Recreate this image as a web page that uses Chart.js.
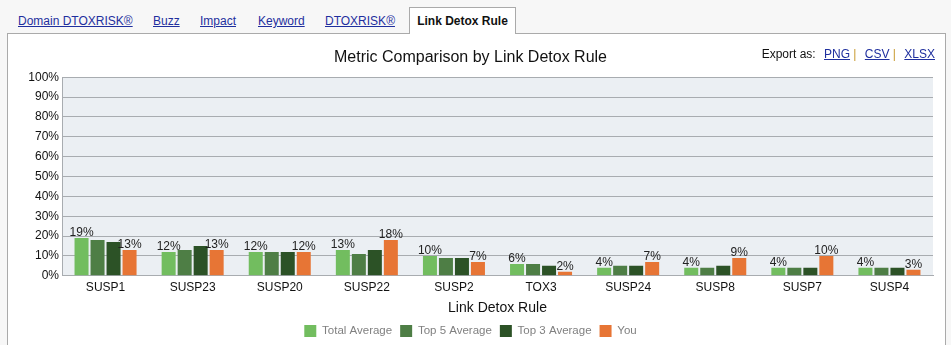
<!DOCTYPE html>
<html lang="en">
<head>
    <meta charset="utf-8" />
    <title>Link Detox Rule</title>
    <style>
        body {
            margin: 0;
            background: #f7f7f7;
            font-family: "Liberation Sans", Arial, sans-serif;
            width: 951px;
            height: 345px;
            overflow: hidden;
            position: relative;
        }
        .tab {
            position: absolute;
            top: 14px;
            font-size: 12px;
            color: #1f2f9e;
            text-decoration: underline;
        }
        #tab-active {
            position: absolute;
            left: 409px;
            top: 7px;
            width: 107px;
            height: 27px;
            background: #fff;
            border: 1px solid #aaa;
            border-bottom: none;
            box-sizing: border-box;
            font-size: 12px;
            font-weight: bold;
            color: #111;
            text-align: center;
            line-height: 26px;
            z-index: 2;
        }
        #panel {
            position: absolute;
            left: 7px;
            top: 33px;
            width: 939px;
            height: 320px;
            background: #fff;
            border: 1px solid #aaa;
            box-sizing: border-box;
        }
        #export {
            position: absolute;
            right: 16px;
            top: 47px;
            font-size: 12px;
            color: #111;
            z-index: 2;
        }
        #export a {
            color: #1f2f9e;
            text-decoration: underline;
            margin-left: 5px;
        }
        #export .sep { color: #c89a30; }
        #chartBox {
            position: absolute;
            left: 8px;
            top: 34px;
            width: 936px;
            height: 313px;
        }
    </style>
</head>
<body>
    <span class="tab" style="left:18px">Domain DTOXRISK®</span>
    <span class="tab" style="left:153px">Buzz</span>
    <span class="tab" style="left:200px">Impact</span>
    <span class="tab" style="left:258px">Keyword</span>
    <span class="tab" style="left:325px">DTOXRISK®</span>
    <div id="tab-active">Link Detox Rule</div>
    <div id="panel"></div>
    <div id="export">Export as: <a>PNG</a><span class="sep"> |</span> <a>CSV</a><span class="sep"> |</span> <a>XLSX</a></div>
    <div id="chartBox">
        <canvas id="ruleChart" width="936" height="313"></canvas>
    </div>

    <script src="https://cdn.jsdelivr.net/npm/chart.js"></script>
    <script>
        var rules = ['SUSP1', 'SUSP23', 'SUSP20', 'SUSP22', 'SUSP2', 'TOX3', 'SUSP24', 'SUSP8', 'SUSP7', 'SUSP4'];
        var totalAverage = [19, 12, 12, 13, 10, 6, 4, 4, 4, 4];
        var top5Average  = [18, 13, 12, 11, 9, 6, 5, 4, 4, 4];
        var top3Average  = [17, 15, 12, 13, 9, 5, 5, 5, 4, 4];
        var you          = [13, 13, 12, 18, 7, 2, 7, 9, 10, 3];
        var yTicks = [0, 10, 20, 30, 40, 50, 60, 70, 80, 90, 100];

        // light blue-grey plot background
        var plotBg = {
            id: 'plotBg',
            beforeDraw: function (chart) {
                var a = chart.chartArea, ctx = chart.ctx;
                ctx.save();
                ctx.fillStyle = '#ebeff3';
                ctx.fillRect(a.left, a.top, a.right - a.left, a.bottom - a.top);
                ctx.restore();
            }
        };

        // percentage labels above "Total Average" and "You" bars
        var barLabels = {
            id: 'barLabels',
            afterDatasetsDraw: function (chart) {
                var ctx = chart.ctx;
                ctx.save();
                ctx.font = '12px "Liberation Sans", Arial, sans-serif';
                ctx.fillStyle = '#222';
                ctx.textAlign = 'center';
                ctx.textBaseline = 'bottom';
                [0, 3].forEach(function (di) {
                    var meta = chart.getDatasetMeta(di);
                    var vals = chart.data.datasets[di].data;
                    meta.data.forEach(function (bar, i) {
                        ctx.fillText(vals[i] + '%', bar.x, bar.y + 1);
                    });
                });
                ctx.restore();
            }
        };

        var ctx = document.getElementById('ruleChart').getContext('2d');
        new Chart(ctx, {
            type: 'bar',
            data: {
                labels: rules,
                datasets: [
                    { label: 'Total Average', data: totalAverage, backgroundColor: '#72bd5f' },
                    { label: 'Top 5 Average', data: top5Average, backgroundColor: '#4e7e45' },
                    { label: 'Top 3 Average', data: top3Average, backgroundColor: '#2c5226' },
                    { label: 'You', data: you, backgroundColor: '#e77535' }
                ]
            },
            options: {
                responsive: false,
                animation: false,
                layout: { padding: { left: 0, right: 11, top: 0, bottom: 0 } },
                datasets: { bar: { categoryPercentage: 0.735, barPercentage: 0.875 } },
                scales: {
                    x: {
                        grid: { display: false, drawOnChartArea: false, tickLength: 4 },
                        border: { color: '#a8acb0' },
                        ticks: { color: '#111', font: { size: 12, family: '"Liberation Sans", Arial' }, padding: 1 },
                        title: {
                            display: true, text: 'Link Detox Rule', color: '#111',
                            font: { size: 14, family: '"Liberation Sans", Arial' }, padding: { top: 4, bottom: 0 }
                        }
                    },
                    y: {
                        min: 0, max: 100,
                        afterBuildTicks: function (axis) {
                            axis.ticks = yTicks.map(function (v) { return { value: v }; });
                        },
                        afterFit: function (axis) { axis.width = 54; },
                        grid: { color: '#a8acb0', lineWidth: 1, drawTicks: false },
                        border: { color: '#a8acb0' },
                        ticks: {
                            color: '#111', padding: 3, autoSkip: false,
                            font: { size: 12, family: '"Liberation Sans", Arial' },
                            callback: function (v) { return v + '%'; }
                        }
                    }
                },
                plugins: {
                    title: {
                        display: true, text: 'Metric Comparison by Link Detox Rule', color: '#111',
                        font: { size: 16, weight: 'normal', family: '"Liberation Sans", Arial' },
                        padding: { top: 14, bottom: 10 }
                    },
                    legend: {
                        position: 'bottom',
                        labels: {
                            boxWidth: 12, boxHeight: 12, color: '#808080', padding: 8,
                            font: { size: 11.5, family: '"Liberation Sans", Arial' }
                        }
                    },
                    tooltip: { enabled: false }
                }
            },
            plugins: [plotBg, barLabels]
        });
    </script>
</body>
</html>
